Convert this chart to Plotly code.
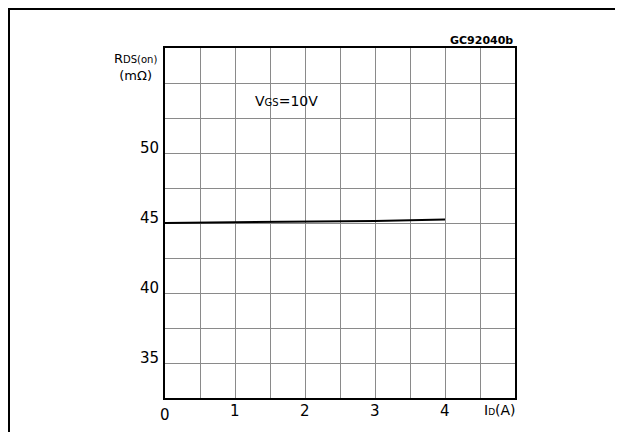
import plotly.graph_objects as go

# Data
id_a = [0, 1, 2, 3, 4]
rds_on = [45.0, 45.04, 45.08, 45.15, 45.25]
x_ticks = [0, 1, 2, 3, 4]
y_ticks = [35, 40, 45, 50]

OFF = 8  # page body margin
W, H = 623 - OFF, 432 - OFF
# plot area in page pixels: x 165..515, y 48..398
L = 165 - OFF
T = 48 - OFF
R = W - (515 - OFF)
B = H - (398 - OFF)
FONT = "DejaVu Sans"

fig = go.Figure()
fig.add_trace(go.Scatter(x=id_a, y=rds_on, mode="lines",
                         line=dict(color="black", width=2), showlegend=False,
                         hoverinfo="skip"))

axis_common = dict(showgrid=True, gridcolor="#8a8a8a", gridwidth=1,
                   showline=True, linecolor="black", linewidth=2, mirror=True,
                   showticklabels=False, ticks="", zeroline=False, fixedrange=True)
fig.update_xaxes(range=[0, 5], dtick=0.5, tick0=0, **axis_common)
fig.update_yaxes(range=[32.5, 57.5], dtick=2.5, tick0=32.5, **axis_common)

ann = []
for v in x_ticks:
    ann.append(dict(x=v, y=0, xref="x", yref="paper", text=str(v), showarrow=False,
                    xanchor="center", yanchor="top", yshift=-6 if v == 0 else -2,
                    font=dict(family=FONT, size=15, color="black")))
for v in y_ticks:
    ann.append(dict(x=0, y=v, xref="paper", yref="y", text=str(v), showarrow=False,
                    xanchor="right", yanchor="bottom", xshift=-4, yshift=-6,
                    font=dict(family=FONT, size=15, color="black")))
ann.append(dict(x=4.78, y=0, xref="x", yref="paper",
                text="I<span style='font-size:9px'>D</span>(A)", showarrow=False,
                xanchor="center", yanchor="top", yshift=-2,
                font=dict(family=FONT, size=14, color="black")))
ann.append(dict(x=0, y=1, xref="paper", yref="paper",
                text="R<span style='font-size:10px'>DS(on)</span><br>(mΩ)", showarrow=False,
                xanchor="right", yanchor="top", xshift=-6, yshift=-1, align="center",
                font=dict(family=FONT, size=13, color="black")))
ann.append(dict(x=1.73, y=53.75, xref="x", yref="y",
                text="V<span style='font-size:10px'>GS</span>=10V", showarrow=False,
                xanchor="center", yanchor="middle",
                font=dict(family=FONT, size=14, color="black")))
ann.append(dict(x=1, y=1, xref="paper", yref="paper", text="<b>GC92040b</b>",
                showarrow=False, xanchor="right", yanchor="bottom", yshift=-1,
                font=dict(family=FONT, size=11, color="black")))

# outer frame (top, left, right) given in figure pixels
pw = W - L - R
ph = H - T - B
def px(xf):
    return (xf - L) / pw
def py(yf):
    return (H - B - yf) / ph

shapes = [
    dict(type="line", xref="paper", yref="paper", x0=px(0), x1=px(W), y0=py(1), y1=py(1),
         line=dict(color="black", width=2)),
    dict(type="line", xref="paper", yref="paper", x0=px(1), x1=px(1), y0=py(0), y1=py(H),
         line=dict(color="black", width=2)),
    dict(type="line", xref="paper", yref="paper", x0=px(W - 1), x1=px(W - 1), y0=py(0), y1=py(H),
         line=dict(color="black", width=2)),
]

fig.update_layout(width=W, height=H, autosize=False,
                  margin=dict(l=L, r=R, t=T, b=B),
                  paper_bgcolor="white", plot_bgcolor="white",
                  annotations=ann, shapes=shapes,
                  font=dict(family=FONT, color="black"))
fig.write_html("out.html")
